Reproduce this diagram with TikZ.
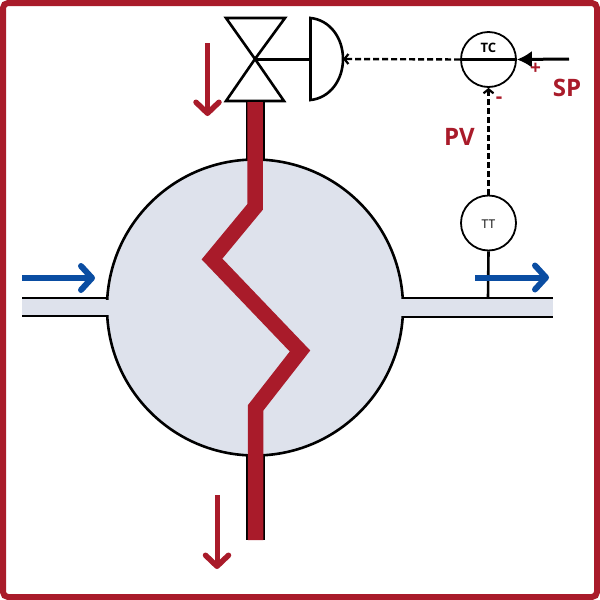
\documentclass[tikz,border=0pt]{standalone}
\usepackage{fontspec}
\setmainfont{Open Sans}
\usetikzlibrary{calc}
\usetikzlibrary{arrows.meta}
\definecolor{tubered}{HTML}{A91B2A}
\definecolor{flowblue}{HTML}{0A4DA2}
\definecolor{shellgray}{HTML}{DEE2EC}
\tikzset{vessel/.style={circle,draw=black,line width=2.6pt,fill=#1,minimum size=296pt,inner sep=0pt},vessel/.default=shellgray}
\tikzset{instr/.style={circle,draw=black,line width=1.8pt,fill=white,minimum size=55pt,inner sep=0pt}}
\tikzset{signal/.style={color=black,line width=2.4pt,dash pattern=on 6pt off 3pt,-{Straight Barb[length=4pt,width=10pt,line width=2.2pt]}}}
\tikzset{flow/.style={color=#1,line width=6pt,-{Straight Barb[length=11pt,width=24pt,line width=6pt,line cap=round,round]}},flow/.default=flowblue}
\tikzset{drop/.style={color=#1,line width=5pt,-{Straight Barb[length=11pt,width=23pt,line width=5.5pt,line cap=round,round]}},drop/.default=tubered}
\tikzset{tag/.style={text=tubered,font=\bfseries\fontsize{24}{24}\selectfont,inner sep=0pt}}
\tikzset{valvepart/.style={draw=black,line width=2.6pt,fill=white,line join=miter}}

\begin{document}
\begin{tikzpicture}[x=1pt,y=-1pt]
	\useasboundingbox (0,0) rectangle (600,600);
	\draw [tubered,line width=6pt,rounded corners=5pt] (3,3) rectangle (597,597);

	% Shell side
	\fill [shellgray] (22,298) rectangle (120,316);
	\fill [shellgray] (390,298) rectangle (553,317);
	\node [vessel] (shell) at (255,307.5) {};
	\fill [shellgray] (100,299.5) rectangle (112,315);
	\fill [shellgray] (398,299) rectangle (410,316);
	\coordinate (inL) at (22,298);
	\coordinate (inR) at (107.5,298);
	\coordinate (inLb) at (22,316);
	\coordinate (inRb) at (107.5,316);
	\coordinate (outL) at (402.5,298);
	\coordinate (outR) at (553,298);
	\coordinate (outLb) at (402.5,317);
	\coordinate (outRb) at (553,317);
	\draw [line width=2.6pt] (inL) -- (inR);
	\draw [line width=2.6pt] (inLb) -- (inRb);
	\draw [line width=2.6pt] (outL) -- (outR);
	\draw [line width=2.6pt] (outLb) -- (outRb);

	% Valve
	\coordinate (apex) at (255,59);
	\path [valvepart] (226,18) -- (285,18) -- (apex) -- cycle;
	\path [valvepart] (226,101) -- (284,101) -- (apex) -- cycle;
	\coordinate (actTop) at (310.5,18);
	\coordinate (actBot) at (310.5,100);
	\coordinate (actTip) at (343,59);
	\draw [line width=2.6pt] (actTop) .. controls (330,20) and (343,38) .. (actTip) .. controls (343,80) and (330,98) .. (actBot) -- cycle;
	\draw [line width=3pt] (apex) -- (310.5,59);

	% Tube side
	\fill [black] (246,102) rectangle (265,160);
	\fill [black] (246,455) rectangle (265,540);
	\draw [tubered,line width=15.5pt,miter limit=10] (255,102) -- (255,207) -- (212,259) -- (300,351) -- (255.5,408) -- (255.5,540);

	% Instruments
	\node [instr] (TC) at (488.5,59.5) {};
	\node [instr] (TT) at (488.5,223) {};
	\node [inner sep=0pt,font=\bfseries\fontsize{13}{13}\selectfont] (TClabel) at (488.5,47.5) {TC};
	\node [inner sep=0pt,font=\fontsize{12}{12}\selectfont] (TTlabel) at (488.5,224) {TT};
	\coordinate (SPin) at (569,59);
	\coordinate (tap) at (488,298);
	\draw [line width=3pt] (TC.west) -- (TC.east);
	\draw [line width=3pt,-{Latex[length=15pt,width=17pt]}] (SPin) -- (TC.east);
	\draw [line width=2.6pt] (TT.south) -- (tap);
	\draw [signal] (TC.west) -- (actTip);
	\draw [signal] (TT.north) -- (TC.south);

	% Flow arrows
	\coordinate (a1) at (22,278);
	\coordinate (a2) at (95,278);
	\coordinate (b1) at (475,277.5);
	\coordinate (b2) at (549,277.5);
	\coordinate (c1) at (207.5,43);
	\coordinate (c2) at (207.5,116);
	\coordinate (d1) at (217,495);
	\coordinate (d2) at (217,569);
	\draw [flow] (a1) -- (a2);
	\draw [flow] (b1) -- (b2);
	\draw [drop] (c1) -- (c2);
	\draw [drop] (d1) -- (d2);

	% Labels
	\node [tag] (SP) at (567,88) {SP};
	\node [tag] (PV) at (459.5,137) {PV};
	\node [tag,font=\bfseries\fontsize{19}{19}\selectfont] (plus) at (535.5,69) {+};
	\node [tag,font=\bfseries\fontsize{20}{20}\selectfont] (minus) at (499,100) {-};
\end{tikzpicture}
\end{document}
